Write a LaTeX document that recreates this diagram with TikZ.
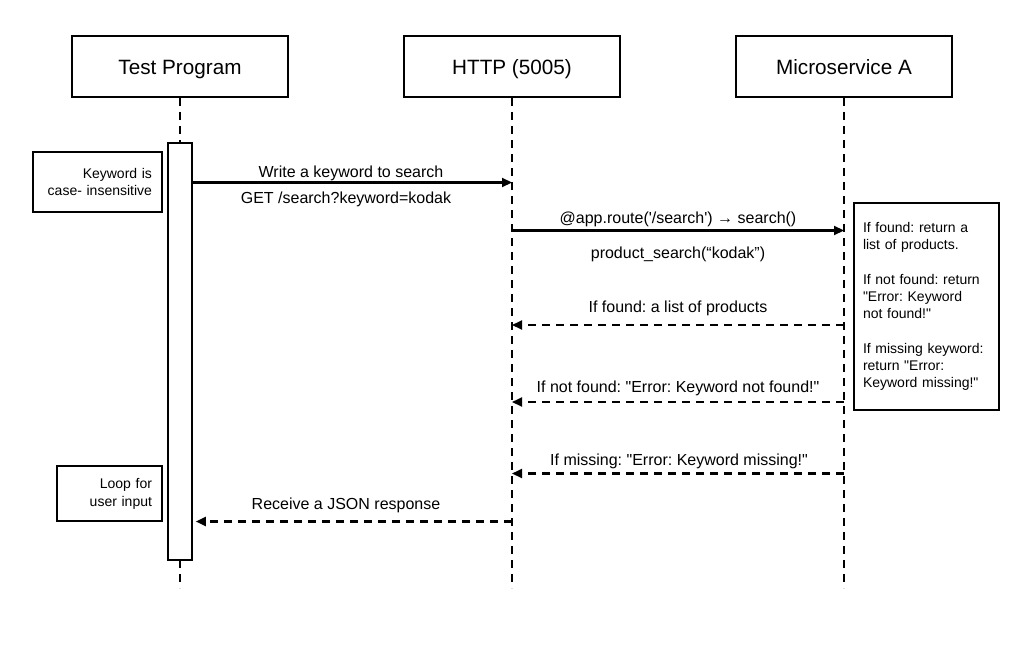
\documentclass[tikz,border=0pt]{standalone}
\usepackage{fontspec}
\setmainfont{Liberation Sans}
\usetikzlibrary{arrows.meta}
\frenchspacing
\begin{document}
\begin{tikzpicture}[x=1pt,y=-1pt,
  header/.style={draw, line width=1.6pt, minimum width=216pt, minimum height=61pt, inner sep=0pt, text height=15pt, text depth=0pt, font=\fontsize{20.7}{24}\selectfont},
  lifeline/.style={line width=2.1pt, dash pattern=on 8pt off 6pt},
  actbox/.style={draw, fill=white, line width=1.6pt, minimum width=24pt, minimum height=417pt, inner sep=0pt},
  note/.style={draw, line width=1.1pt, inner xsep=10pt, inner ysep=0pt, font=\fontsize{14}{17.3}\selectfont},
  msg/.style={line width=2.1pt, -{Triangle[length=10pt,width=9pt]}},
  ret/.style={msg, dash pattern=on 8pt off 6pt},
  lbl/.style={font=\fontsize{16}{19}\selectfont, inner sep=0pt, anchor=base}
]
\useasboundingbox (0,0) rectangle (1024,666);
\fill[white] (0,0) rectangle (1024,666);

% headers
\node[header] (tp) at (180,66.7) {Test Program};
\node[header] (http) at (512,66.7) {HTTP (5005)};
\node[header] (ms) at (844,66.7) {Microservice A};

% lifelines
\coordinate (tpend) at (180,588);
\coordinate (httpend) at (512,588);
\coordinate (msend) at (844,588);
\draw[lifeline] (tp.south) -- (tpend);
\draw[lifeline] (http.south) -- (httpend);
\draw[lifeline] (ms.south) -- (msend);

% activation
\node[actbox] (act) at (180,351.5) {};

% notes
\node[note, text width=109pt, align=right, minimum height=60pt] (n1) at (97.5,182) {Keyword is\\case- insensitive};
\node[note, text width=85pt, align=right, minimum height=55pt, font=\fontsize{14}{18}\selectfont] (n2) at (109.5,493.5) {Loop for\\user input};
\node[note, inner xsep=9pt, text width=127pt, align=left, minimum height=207pt] (n3) at (926.5,306.5) {If found: return a\\list of products.\\[17.3pt]If not found: return\\\textquotedbl Error: Keyword\\not found!\textquotedbl\\[17.3pt]If missing keyword:\\return \textquotedbl Error:\\Keyword missing!\textquotedbl};

% messages
\draw[msg] (act.east |- 0,182.5) -- (http |- 0,182.5);
\node[lbl] (l1) at (351,177) {Write a keyword to search};
\node[lbl] (l2) at (346,203) {GET /search?keyword=kodak};

\draw[msg] (http |- 0,230.5) -- (ms |- 0,230.5);
\node[lbl] (l3) at (678,223) {@app.route(\textquotesingle/search\textquotesingle) → search()};
\node[lbl] (l4) at (678,258) {product\_search(“kodak”)};

\draw[ret] (ms |- 0,325) -- (http |- 0,325);
\node[lbl] (l5) at (678,312) {If found: a list of products};

\draw[ret] (ms |- 0,402) -- (http |- 0,402);
\node[lbl] (l6) at (678,392) {If not found: \textquotedbl Error: Keyword not found!\textquotedbl};

\draw[ret] (ms |- 0,473.5) -- (http |- 0,473.5);
\node[lbl] (l7) at (679,465) {If missing: \textquotedbl Error: Keyword missing!\textquotedbl};

\draw[ret] (http |- 0,521.5) -- ([xshift=3pt]act.east |- 0,521.5);
\node[lbl] (l8) at (346,509) {Receive a JSON response};
\end{tikzpicture}
\end{document}
